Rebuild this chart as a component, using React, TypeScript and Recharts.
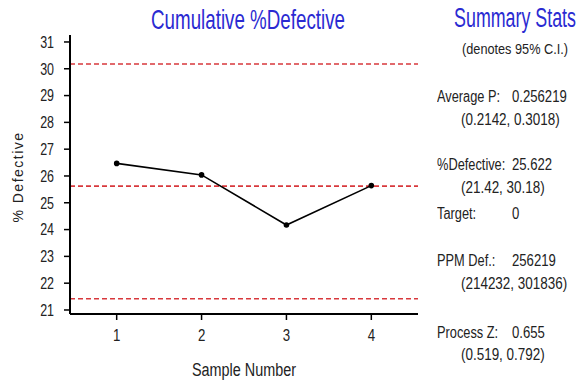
import React from 'react';
import { LineChart, Line, XAxis, YAxis, ReferenceLine } from 'recharts';

const samples = [1, 2, 3, 4];
const pctDefective = [26.47, 26.04, 24.17, 25.64];
const yTicks = [21, 22, 23, 24, 25, 26, 27, 28, 29, 30, 31];
const centerLine = 25.622;
const upperLimit = 30.18;
const lowerLimit = 21.42;

const data = samples.map((s, i) => ({ sample: s, value: pctDefective[i] }));

const FONT = '"Liberation Sans", Arial, sans-serif';
const BLUE = '#2a2ad2';
const RED = '#d8383c';
const TXT = '#222';

const statLabels = ['Average P:', '%Defective:', 'Target:', 'PPM Def.:', 'Process Z:'];
const statValues = ['0.256219', '25.622', '0', '256219', '0.655'];
const statCIs = ['(0.2142, 0.3018)', '(21.42, 30.18)', '', '(214232, 301836)', '(0.519, 0.792)'];
const statRowY = [97, 165, 214, 261, 333];
const ciRowY = [120, 188, 0, 284, 355];

type NProps = { x: number; y: number; size: number; color?: string; anchor?: 'start' | 'middle'; sx?: number; children: React.ReactNode; spacing?: number };
function NText({ x, y, size, color = TXT, anchor = 'start', sx = 0.8, children, spacing = 0 }: NProps) {
  return (
    <div
      style={{
        position: 'absolute',
        left: x,
        top: y - size / 2,
        fontSize: size,
        lineHeight: `${size}px`,
        fontFamily: FONT,
        color,
        whiteSpace: 'nowrap',
        letterSpacing: spacing,
        transform: anchor === 'middle' ? `translateX(-50%) scaleX(${sx})` : `scaleX(${sx})`,
        transformOrigin: anchor === 'middle' ? 'center' : 'left',
      }}
    >
      {children}
    </div>
  );
}

const YTick = (props: any) => {
  const { x, y, payload } = props;
  return (
    <text transform={`translate(${x - 8},${y}) scale(0.78,1)`} textAnchor="end" dy="0.36em" fontSize={16} fontFamily={FONT} fill={TXT}>
      {payload.value}
    </text>
  );
};

const XTick = (props: any) => {
  const { x, y, payload } = props;
  return (
    <text transform={`translate(${x},${y + 19}) scale(0.78,1)`} textAnchor="middle" fontSize={17} fontFamily={FONT} fill={TXT}>
      {payload.value}
    </text>
  );
};

export default function App() {
  return (
    <div style={{ position: 'absolute', left: 0, top: 0, width: 585, height: 383, background: '#fff' }}>
      <LineChart
        width={585}
        height={383}
        data={data}
        margin={{ top: 35, right: 167, bottom: 24, left: 40 }}
      >
        <XAxis
          dataKey="sample"
          type="number"
          domain={[0.45, 4.55]}
          ticks={samples}
          axisLine={{ stroke: '#000', strokeWidth: 2 }}
          tickLine={{ stroke: '#000', strokeWidth: 1.5 }}
          tickSize={6}
          tick={<XTick />}
          height={45}
        />
        <XAxis
          xAxisId="top"
          orientation="top"
          dataKey="sample"
          type="number"
          domain={[0.45, 4.55]}
          tick={false}
          tickLine={false}
          axisLine={{ stroke: '#000', strokeWidth: 1.5 }}
          height={0}
        />
        <YAxis
          type="number"
          domain={[20.85, 31.26]}
          ticks={yTicks}
          interval={0}
          axisLine={{ stroke: '#000', strokeWidth: 2 }}
          tickLine={{ stroke: '#000', strokeWidth: 1.5 }}
          tickSize={6}
          tick={<YTick />}
          width={30}
        />
        <YAxis
          yAxisId="right"
          orientation="right"
          type="number"
          domain={[20.85, 31.26]}
          tick={false}
          tickLine={false}
          axisLine={{ stroke: '#000', strokeWidth: 1.5 }}
          width={0}
        />
        <ReferenceLine y={upperLimit} stroke={RED} strokeWidth={1.6} strokeDasharray="5 3" />
        <ReferenceLine y={centerLine} stroke={RED} strokeWidth={1.6} strokeDasharray="5 3" />
        <ReferenceLine y={lowerLimit} stroke={RED} strokeWidth={1.6} strokeDasharray="5 3" />
        <Line
          dataKey="value"
          stroke="#000"
          strokeWidth={1.6}
          dot={{ r: 2, fill: '#000', stroke: '#000' }}
          isAnimationActive={false}
        />
      </LineChart>
      <NText x={248} y={20} size={28} color={BLUE} anchor="middle" sx={0.67}>Cumulative %Defective</NText>
      <NText x={244} y={370} size={18} anchor="middle" sx={0.8}>Sample Number</NText>
      <div style={{ position: 'absolute', left: 18, top: 177, transform: 'translate(-50%, -50%) rotate(-90deg)', whiteSpace: 'nowrap', color: TXT, fontSize: 14, fontFamily: FONT, letterSpacing: 1.5, lineHeight: '16px' }}>
        % Defective
      </div>
      <NText x={515} y={18} size={27} color={BLUE} anchor="middle" sx={0.66}>Summary Stats</NText>
      <NText x={515} y={49} size={15.5} anchor="middle" sx={0.82}>(denotes 95% C.I.)</NText>
      {statLabels.map((lab, i) => (
        <React.Fragment key={lab}>
          <NText x={437} y={statRowY[i]} size={16} sx={0.8}>{lab}</NText>
          <NText x={512} y={statRowY[i]} size={16} sx={0.82}>{statValues[i]}</NText>
          {statCIs[i] ? <NText x={461} y={ciRowY[i]} size={16} sx={0.84}>{statCIs[i]}</NText> : null}
        </React.Fragment>
      ))}
    </div>
  );
}
